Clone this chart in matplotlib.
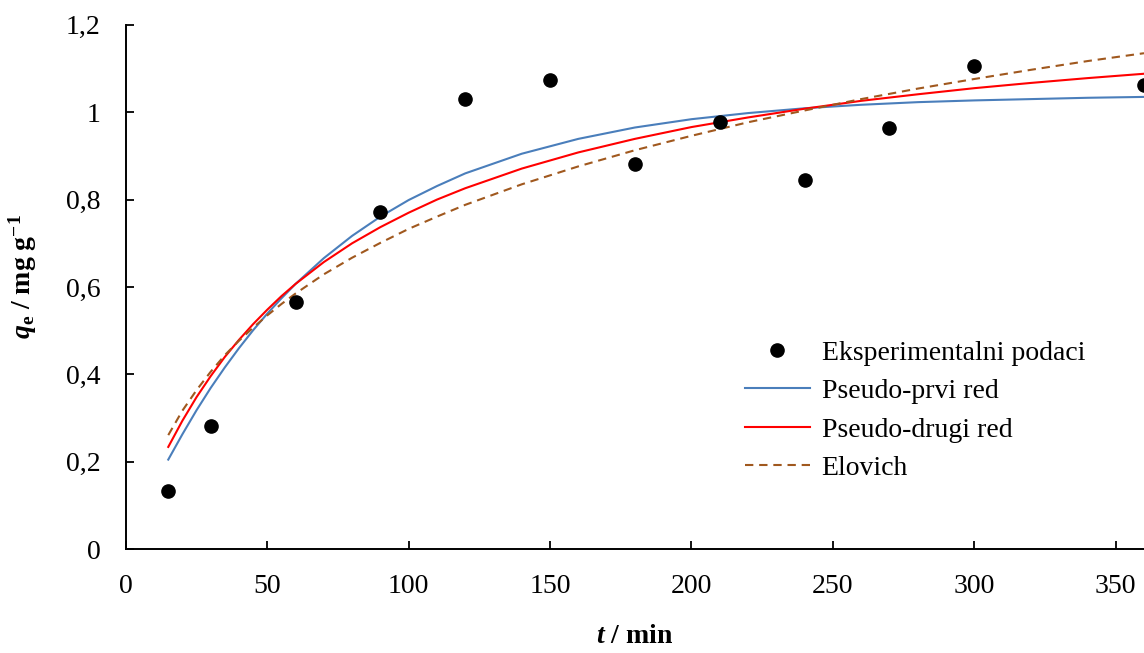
import matplotlib
matplotlib.use('Agg')
import matplotlib.pyplot as plt

# eksperimentalni podaci
t_exp = [15, 30, 60, 90, 120, 150, 180, 210, 240, 270, 300, 360]
q_exp = [0.132, 0.282, 0.566, 0.772, 1.030, 1.074, 0.881, 0.977, 0.845, 0.964, 1.106, 1.063]

# modelne krive ocitane sa slike
t_mod = [15, 20, 25, 30, 35, 40, 45, 50, 55, 60, 70, 80, 90, 100, 110, 120,
         140, 160, 180, 200, 220, 240, 260, 280, 300, 320, 340, 360]
q_pfo = [0.205, 0.263, 0.318, 0.369, 0.416, 0.460, 0.501, 0.539, 0.574, 0.607,
         0.666, 0.717, 0.761, 0.799, 0.831, 0.860, 0.905, 0.939, 0.965, 0.984,
         0.998, 1.009, 1.017, 1.023, 1.027, 1.030, 1.033, 1.035]
q_pso = [0.234, 0.294, 0.348, 0.396, 0.440, 0.479, 0.515, 0.548, 0.579, 0.607,
         0.657, 0.700, 0.737, 0.770, 0.800, 0.826, 0.871, 0.908, 0.939, 0.966,
         0.988, 1.008, 1.026, 1.041, 1.055, 1.067, 1.078, 1.088]
q_elo = [0.261, 0.317, 0.364, 0.406, 0.444, 0.477, 0.507, 0.535, 0.561, 0.585,
         0.629, 0.667, 0.701, 0.733, 0.761, 0.788, 0.835, 0.876, 0.913, 0.946,
         0.977, 1.004, 1.030, 1.054, 1.076, 1.097, 1.117, 1.135]

x_ticks = [0, 50, 100, 150, 200, 250, 300, 350]
y_ticks = [0, 0.2, 0.4, 0.6, 0.8, 1.0, 1.2]
y_tick_labels = ['0', '0,2', '0,4', '0,6', '0,8', '1', '1,2']

plt.rcParams['font.family'] = 'Liberation Serif'
plt.rcParams['mathtext.fontset'] = 'custom'
plt.rcParams['mathtext.rm'] = 'Liberation Serif'
plt.rcParams['mathtext.it'] = 'Liberation Serif:italic'
plt.rcParams['mathtext.bf'] = 'Liberation Serif:bold'
plt.rcParams['mathtext.bfit'] = 'Liberation Serif:italic:bold'

fig = plt.figure(figsize=(11.44, 6.53), dpi=100)
ax = fig.add_axes([0.110, 0.159, 0.890, 0.803])

ax.plot(t_exp, q_exp, 'o', color='black', markersize=9.5, clip_on=False,
        label='Eksperimentalni podaci', zorder=5)
ax.plot(t_mod, q_pfo, color='#4A7EBB', lw=1.5, label='Pseudo-prvi red')
ax.plot(t_mod, q_pso, color='#FF0000', lw=1.5, label='Pseudo-drugi red')
ax.plot(t_mod, q_elo, color='#A0581E', lw=1.5, linestyle=(0, (4, 2.8)), label='Elovich')

ax.set_xlim(0, 360)
ax.set_ylim(0, 1.2)
ax.set_xticks(x_ticks)
ax.set_yticks(y_ticks)
ax.set_yticklabels(y_tick_labels)
ax.tick_params(direction='in', length=5.5, width=1.3, labelsize=20, pad=18)

for s in ['top', 'right']:
    ax.spines[s].set_visible(False)
for s in ['left', 'bottom']:
    ax.spines[s].set_linewidth(1.4)

ax.set_xlabel(r'$\mathbfit{t}$ / min', fontsize=20, fontweight='bold', labelpad=18)
ax.set_ylabel(r'$\mathbfit{q}_\mathbf{e}$ / mg g$^\mathbf{-1}$', fontsize=20,
              fontweight='bold')
ax.yaxis.set_label_coords(-0.085, 0.519)

ax.legend(loc='center left', bbox_to_anchor=(0.651, 0.371), bbox_transform=fig.transFigure,
          frameon=False, fontsize=20, handlelength=2.35, handletextpad=0.42,
          borderpad=0, labelspacing=0.47, borderaxespad=0)

fig.savefig('out.png', dpi=100)
